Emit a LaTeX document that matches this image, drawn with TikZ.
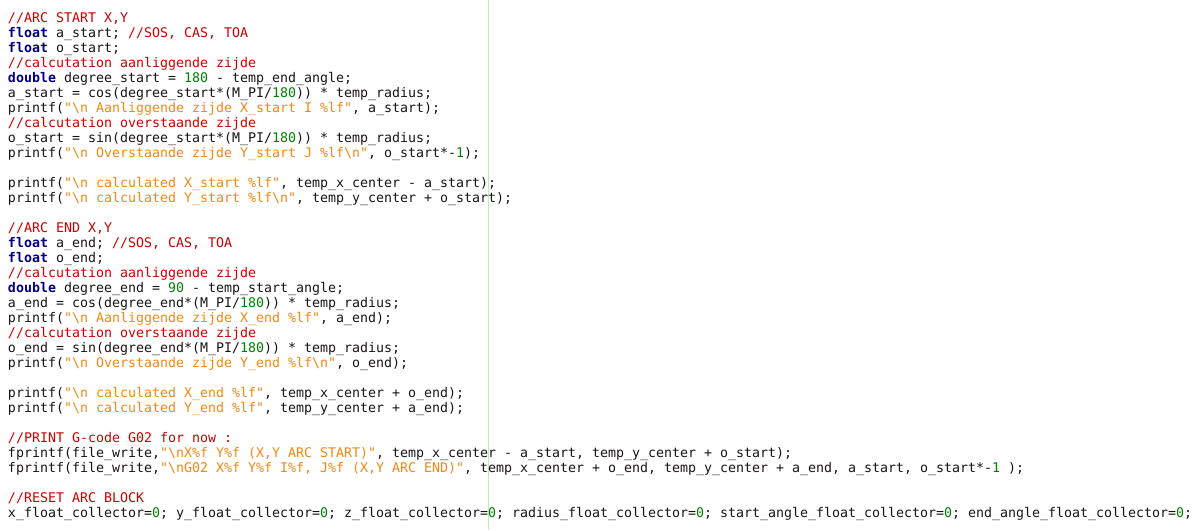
\documentclass[tikz,border=0pt]{standalone}
\usepackage{fontspec}
\setmonofont{DejaVu Sans Mono}
\definecolor{cmtred}{RGB}{204,0,0}
\definecolor{kwblue}{RGB}{0,0,128}
\definecolor{strorange}{RGB}{245,135,20}
\definecolor{numgreen}{RGB}{0,128,0}
\definecolor{txtblack}{RGB}{25,20,20}
\definecolor{marginline}{RGB}{190,235,190}
\newcommand\cm[1]{\textcolor{cmtred}{#1}}
\newcommand\kw[1]{\textcolor{kwblue}{\bfseries #1}}
\newcommand\st[1]{\textcolor{strorange}{#1}}
\newcommand\nm[1]{\textcolor{numgreen}{#1}}
\newcommand\bsl{\textbackslash{}}
\begin{document}
\begin{tikzpicture}[x=1pt,y=-1pt,
  codeline/.style={anchor=base west,inner sep=0pt,outer sep=0pt,text=txtblack,
    font=\fontsize{13.29}{15}\selectfont\ttfamily\frenchspacing}]
\path[use as bounding box,fill=white] (0,0) rectangle (1201,530);
\coordinate (mtop) at (488.5,0);
\coordinate (mbot) at (488.5,530);
\draw[marginline,line width=1pt] (mtop) -- (mbot);
\def\L#1#2{\node[codeline] (l#1) at (8,{22+15*(#1-1)}) {#2};}
\L{1}{\cm{//ARC START X,Y}}
\L{2}{\kw{float} a\_start; \cm{//SOS, CAS, TOA}}
\L{3}{\kw{float} o\_start;}
\L{4}{\cm{//calcutation aanliggende zijde}}
\L{5}{\kw{double} degree\_start = \nm{180} - temp\_end\_angle;}
\L{6}{a\_start = cos(degree\_start*(M\_PI/\nm{180})) * temp\_radius;}
\L{7}{printf(\st{"\bsl n Aanliggende zijde X\_start I \%lf"}, a\_start);}
\L{8}{\cm{//calcutation overstaande zijde}}
\L{9}{o\_start = sin(degree\_start*(M\_PI/\nm{180})) * temp\_radius;}
\L{10}{printf(\st{"\bsl n Overstaande zijde Y\_start J \%lf\bsl n"}, o\_start*-\nm{1});}
\L{12}{printf(\st{"\bsl n calculated X\_start \%lf"}, temp\_x\_center - a\_start);}
\L{13}{printf(\st{"\bsl n calculated Y\_start \%lf\bsl n"}, temp\_y\_center + o\_start);}
\L{15}{\cm{//ARC END X,Y}}
\L{16}{\kw{float} a\_end; \cm{//SOS, CAS, TOA}}
\L{17}{\kw{float} o\_end;}
\L{18}{\cm{//calcutation aanliggende zijde}}
\L{19}{\kw{double} degree\_end = \nm{90} - temp\_start\_angle;}
\L{20}{a\_end = cos(degree\_end*(M\_PI/\nm{180})) * temp\_radius;}
\L{21}{printf(\st{"\bsl n Aanliggende zijde X\_end \%lf"}, a\_end);}
\L{22}{\cm{//calcutation overstaande zijde}}
\L{23}{o\_end = sin(degree\_end*(M\_PI/\nm{180})) * temp\_radius;}
\L{24}{printf(\st{"\bsl n Overstaande zijde Y\_end \%lf\bsl n"}, o\_end);}
\L{26}{printf(\st{"\bsl n calculated X\_end \%lf"}, temp\_x\_center + o\_end);}
\L{27}{printf(\st{"\bsl n calculated Y\_end \%lf"}, temp\_y\_center + a\_end);}
\L{29}{\cm{//PRINT G-code G02 for now :}}
\L{30}{fprintf(file\_write,\st{"\bsl nX\%f Y\%f (X,Y ARC START)"}, temp\_x\_center - a\_start, temp\_y\_center + o\_start);}
\L{31}{fprintf(file\_write,\st{"\bsl nG02 X\%f Y\%f I\%f, J\%f (X,Y ARC END)"}, temp\_x\_center + o\_end, temp\_y\_center + a\_end, a\_start, o\_start*-\nm{1} );}
\L{33}{\cm{//RESET ARC BLOCK}}
\L{34}{x\_float\_collector=\nm{0}; y\_float\_collector=\nm{0}; z\_float\_collector=\nm{0}; radius\_float\_collector=\nm{0}; start\_angle\_float\_collector=\nm{0}; end\_angle\_float\_collector=\nm{0};}
\end{tikzpicture}
\end{document}
